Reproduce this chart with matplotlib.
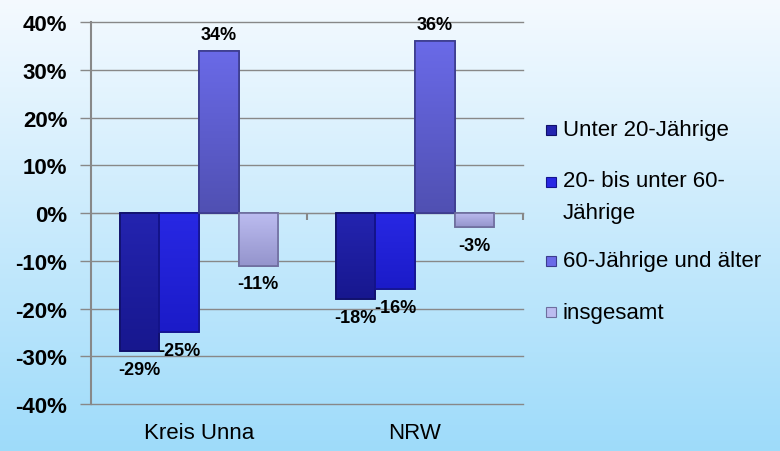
import numpy as np
import matplotlib
matplotlib.use("Agg")
import matplotlib.pyplot as plt
from matplotlib.patches import Rectangle
from matplotlib.ticker import FuncFormatter

plt.rcParams['font.family'] = ['Liberation Sans', 'DejaVu Sans']

# data
regions = ["Kreis Unna", "NRW"]
series = ["Unter 20-Jährige", "20- bis unter 60-\nJährige",
          "60-Jährige und älter", "insgesamt"]
values = [
    [-29, -18],
    [-25, -16],
    [34, 36],
    [-11, -3],
]
tops = ["#2424b0", "#2828e4", "#6a6ae8", "#bcbcf0"]
bots = ["#17178e", "#1b1bc8", "#5050b2", "#9494cc"]
edges = ["#10106a", "#14148f", "#3c3c8e", "#6e6e9e"]

fig = plt.figure(figsize=(7.8, 4.52), dpi=100)

# background gradient
bg = fig.add_axes([0, 0, 1, 1], zorder=-10)
grad = np.linspace(0, 1, 256).reshape(-1, 1)
top = np.array([0.96, 0.98, 1.0])
bot = np.array([0.62, 0.86, 0.98])
img = top + (bot - top) * grad[:, :, None]
bg.imshow(img, aspect='auto', extent=[0, 1, 0, 1])
bg.axis('off')

ax = fig.add_axes([0.1167, 0.104, 0.5538, 0.845])
ax.set_facecolor('none')
ax.set_ylim(-40, 40)
ax.set_xlim(-0.5, 1.5)

def hexrgb(h):
    return np.array([int(h[k:k + 2], 16) / 255 for k in (1, 3, 5)])

x = np.arange(len(regions))
w = 0.183
for i, vals in enumerate(values):
    pos = x + (i - 1.5) * w
    bars = ax.bar(pos, vals, width=w, color=tops[i], edgecolor=edges[i],
                  linewidth=1.2, zorder=3)
    c0, c1 = hexrgb(tops[i]), hexrgb(bots[i])
    g = c0 + (c1 - c0) * grad[:, :, None]
    for b, v in zip(bars, vals):
        x0 = b.get_x()
        x1 = x0 + b.get_width()
        y0, y1 = (0, v) if v > 0 else (v, 0)
        im = ax.imshow(g, aspect='auto', extent=[x0, x1, y0, y1],
                       origin='upper', zorder=3.5)
        im.set_clip_path(b)
        ax.bar(b.get_x() + w / 2, v, width=w, facecolor='none',
               edgecolor=edges[i], linewidth=1.2, zorder=4)
        off = 12 if v > 0 else -13
        ax.annotate(f"{v}%", (x0 + w / 2, v),
                    xytext=(0, off), textcoords='offset points',
                    ha='center', va='center', fontsize=13, fontweight='bold',
                    zorder=5)

ax.set_ylim(-40, 40)
ax.set_xlim(-0.5, 1.5)
ax.set_yticks(range(-40, 41, 10))
ax.yaxis.set_major_formatter(FuncFormatter(lambda v, p: f"{int(v)}%"))
ax.grid(axis='y', color='#888888', linewidth=1, zorder=1)
for gl in ax.get_ygridlines():
    gl.set_clip_on(False)
ax.tick_params(axis='y', length=8, width=1, color='#888888', labelsize=16,
               pad=9)
for lab in ax.get_yticklabels():
    lab.set_fontweight('bold')

for s in ['top', 'right']:
    ax.spines[s].set_visible(False)
ax.spines['left'].set_color('#888888')
ax.spines['left'].set_linewidth(1.5)
ax.spines['bottom'].set_position(('data', 0))
ax.spines['bottom'].set_color('#888888')
ax.set_xticks([0.5, 1.5])
ax.set_xticklabels([])
ax.tick_params(axis='x', length=5, width=1.5, color='#888888')

for i, r in enumerate(regions):
    ax.text(i, -0.075, r, transform=ax.get_xaxis_transform(), ha='center',
            va='center', fontsize=16)

# legend
leg_y = [131, 183, 262, 313]
for i, (lab, yy) in enumerate(zip(series, leg_y)):
    fy = 1 - yy / 452
    fig.patches.append(Rectangle((546 / 780, fy - 5 / 452), 10 / 780, 10 / 452,
                                 transform=fig.transFigure, facecolor=tops[i],
                                 edgecolor=edges[i], linewidth=0.8))
    if '\n' in lab:
        fig.text(563 / 780, fy + 12 / 452, lab, ha='left', va='top',
                 fontsize=16, linespacing=1.7)
    else:
        fig.text(563 / 780, fy, lab, ha='left', va='center', fontsize=16)

fig.savefig("out.png", dpi=100)
